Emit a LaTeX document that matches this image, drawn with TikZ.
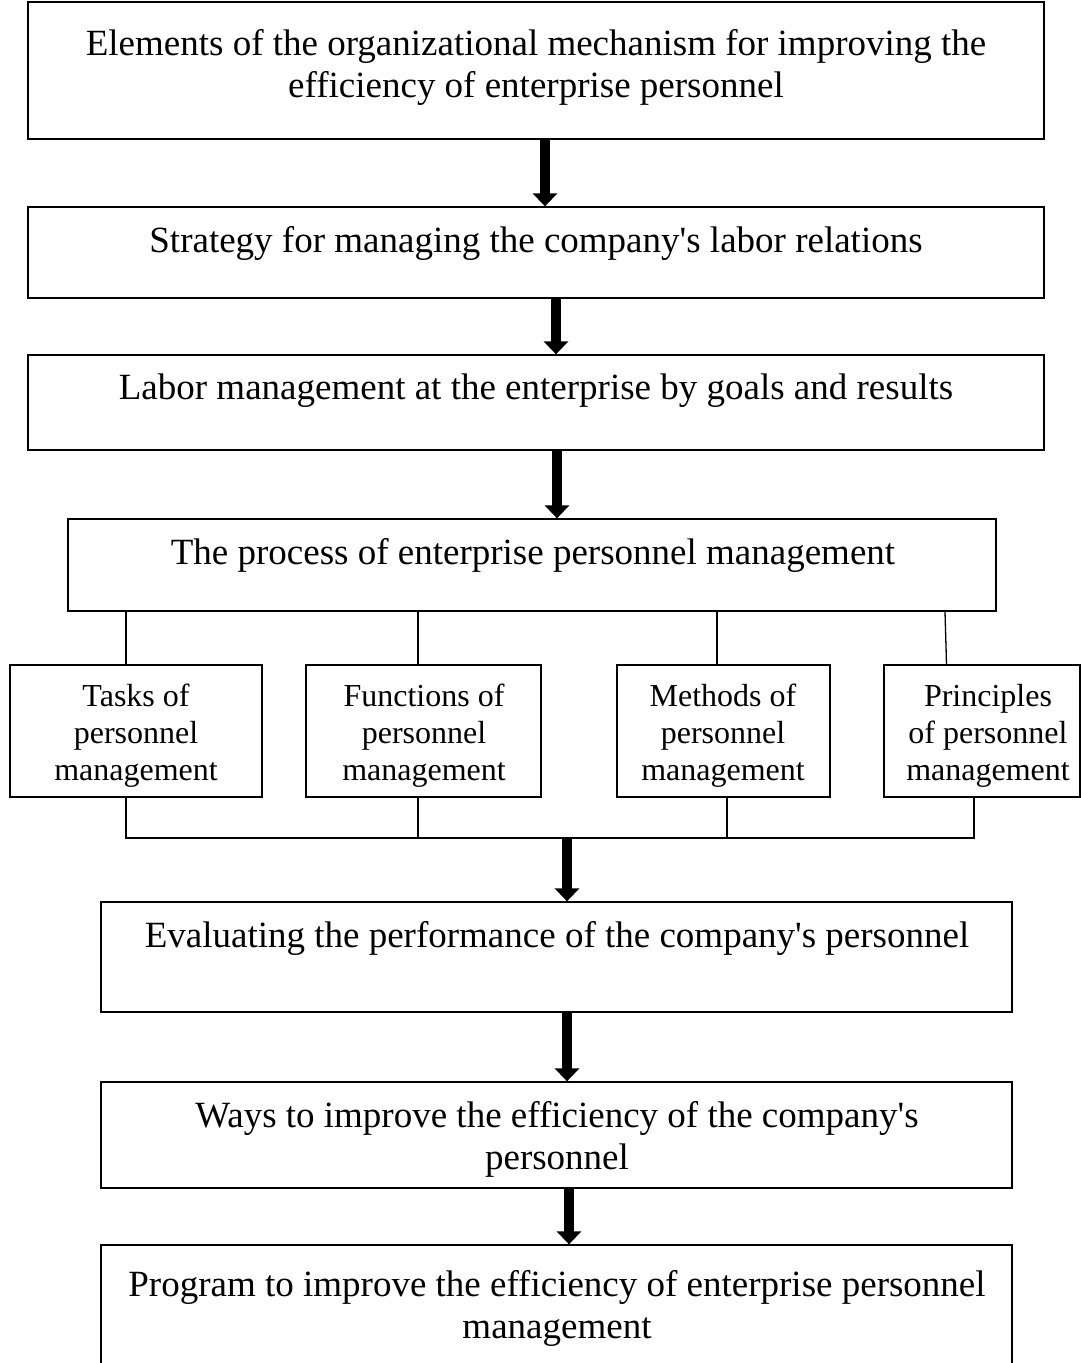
\documentclass[tikz,border=0pt]{standalone}
\usepackage{fontspec}
\setmainfont{Liberation Serif}[Ligatures=TeXOff]
\usetikzlibrary{arrows.meta}
\begin{document}
\begin{tikzpicture}[x=1pt,y=-1pt,
  box/.style={draw,line width=1.3pt,inner sep=0pt},
  big/.style={align=center,inner sep=0pt,font=\fontsize{37}{42}\selectfont},
  small/.style={align=center,inner sep=0pt,font=\fontsize{32}{37}\selectfont},
  thin/.style={line width=1.3pt},
  fat/.style={line width=10pt,-{Triangle[length=13pt,width=24pt]}}]
\useasboundingbox (0,0) rectangle (1081,1363);
% boxes
\node[box,minimum width=1016,minimum height=137] (b1) at (536,70.5) {};
\node[box,minimum width=1016,minimum height=91] (b2) at (536,252.5) {};
\node[box,minimum width=1016,minimum height=95] (b3) at (536,402.5) {};
\node[box,minimum width=928,minimum height=92] (b4) at (532,565) {};
\node[box,minimum width=252,minimum height=132] (s1) at (136,731) {};
\node[box,minimum width=235,minimum height=132] (s2) at (423.5,731) {};
\node[box,minimum width=213,minimum height=132] (s3) at (723.5,731) {};
\node[box,minimum width=196,minimum height=132] (s4) at (982,731) {};
\node[box,minimum width=911,minimum height=110] (b5) at (556.5,957) {};
\node[box,minimum width=911,minimum height=106] (b6) at (556.5,1135) {};
\node[box,minimum width=911,minimum height=135] (b7) at (556.5,1312.5) {};
% texts
\node[big] (t1) at (536,67) {Elements of the organizational mechanism for improving the\\efficiency of enterprise personnel};
\node[big] (t2) at (536,243) {Strategy for managing the company's labor relations};
\node[big] (t3) at (536,391) {Labor management at the enterprise by goals and results};
\node[big] (t4) at (533,555) {The process of enterprise personnel management};
\node[small] (u1) at (136,736) {Tasks of\\personnel\\management};
\node[small] (u2) at (424,736) {Functions of\\personnel\\management};
\node[small] (u3) at (723,736) {Methods of\\personnel\\management};
\node[small] (u4) at (988,736) {Principles\\of personnel\\management};
\node[big] (t5) at (557,938) {Evaluating the performance of the company's personnel};
\node[big] (t6) at (557,1139) {Ways to improve the efficiency of the company's\\personnel};
\node[big] (t7) at (557,1308) {Program to improve the efficiency of enterprise personnel\\management};
% thick arrows
\draw[fat] (545,0 |- b1.south) -- (545,0 |- b2.north);
\draw[fat] (556,0 |- b2.south) -- (556,0 |- b3.north);
\draw[fat] (557,0 |- b3.south) -- (557,0 |- b4.north);
\coordinate (j0) at (567,838);
\draw[fat] (j0) -- (567,0 |- b5.north);
\draw[fat] (567,0 |- b5.south) -- (567,0 |- b6.north);
\draw[fat] (569,0 |- b6.south) -- (569,0 |- b7.north);
% thin connectors from process box
\draw[thin] (126,0 |- b4.south) -- (126,0 |- s1.north);
\draw[thin] (418,0 |- b4.south) -- (418,0 |- s2.north);
\draw[thin] (717,0 |- b4.south) -- (717,0 |- s3.north);
\draw[thin] (945,0 |- b4.south) -- (946.5,0 |- s4.north);
% collecting line
\coordinate (j1) at (126,838);
\coordinate (j2) at (418,838);
\coordinate (j3) at (727,838);
\coordinate (j4) at (974,838);
\draw[thin] (126,0 |- s1.south) -- (j1) -- (j4) -- (974,0 |- s4.south);
\draw[thin] (418,0 |- s2.south) -- (j2);
\draw[thin] (727,0 |- s3.south) -- (j3);
\end{tikzpicture}
\end{document}
